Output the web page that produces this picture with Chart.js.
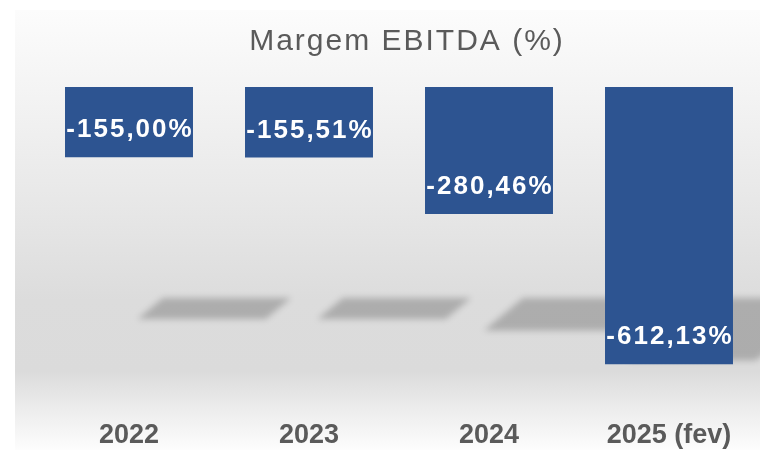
<!DOCTYPE html>
<html>
<head>
<meta charset="utf-8">
<title>Margem EBITDA (%)</title>
<script src="https://cdn.jsdelivr.net/npm/chart.js@4/dist/chart.umd.min.js"></script>
<style>
  html, body { margin: 0; padding: 0; background: #ffffff; }
  #wrap { width: 760px; height: 450px; }
</style>
</head>
<body>
<div id="wrap"><canvas id="ebitda" width="760" height="450"></canvas></div>
<script>
// Margem EBITDA por ano
const anos = ['2022', '2023', '2024', '2025 (fev)'];
const margem = [-155.00, -155.51, -280.46, -612.13];
const titulo = 'Margem EBITDA (%)';

const azul = '#2d5491';
const cinzaTexto = '#5a5a5a';
const fonte = '"Liberation Sans", Arial, sans-serif';

function formatPct(v) {
    return v.toFixed(2).replace('.', ',') + '%';
}

// fundo cinza em degradê e título
const fundoPlugin = {
    id: 'fundo',
    beforeDraw(chart) {
        const ctx = chart.ctx;
        ctx.save();
        ctx.fillStyle = '#ffffff';
        ctx.fillRect(0, 0, chart.width, chart.height);
        const g = ctx.createLinearGradient(0, 10, 0, chart.height);
        g.addColorStop(0, '#fcfcfc');
        g.addColorStop(0.18, '#f4f4f4');
        g.addColorStop(0.45, '#e7e7e7');
        g.addColorStop(0.66, '#dcdcdc');
        g.addColorStop(0.82, '#dbdbdb');
        g.addColorStop(0.91, '#ededed');
        g.addColorStop(1, '#fdfdfd');
        ctx.fillStyle = g;
        ctx.fillRect(15, 10, chart.width - 15, chart.height - 10);

        ctx.fillStyle = cinzaTexto;
        ctx.font = '30px ' + fonte;
        ctx.letterSpacing = '2px';
        ctx.textAlign = 'center';
        ctx.textBaseline = 'alphabetic';
        ctx.fillText(titulo, 407, 50);
        ctx.restore();
    }
};

// sombra projetada em perspectiva atrás das barras
const sombraPlugin = {
    id: 'sombra',
    beforeDatasetsDraw(chart) {
        const ctx = chart.ctx;
        const bars = chart.getDatasetMeta(0).data;
        ctx.save();
        ctx.filter = 'blur(3px)';
        ctx.fillStyle = 'rgba(0,0,0,0.21)';
        bars.forEach(bar => {
            const p = bar.getProps(['x', 'y', 'base', 'width'], true);
            const h = Math.abs(p.y - p.base);
            const left = p.x - p.width / 2;
            const right = p.x + p.width / 2;
            const top = p.base + 211;
            const t = 7 + 0.2 * h;
            const skew = 1.2 * t;
            ctx.beginPath();
            ctx.moveTo(left + 98, top);
            ctx.lineTo(right + 98, top);
            ctx.lineTo(right + 98 - skew, top + t);
            ctx.lineTo(left + 98 - skew, top + t);
            ctx.closePath();
            ctx.fill();
        });
        ctx.restore();
    }
};

// rótulos de valor dentro das barras
const rotuloPlugin = {
    id: 'rotulos',
    afterDatasetsDraw(chart) {
        const ctx = chart.ctx;
        const bars = chart.getDatasetMeta(0).data;
        ctx.save();
        ctx.fillStyle = '#ffffff';
        ctx.font = 'bold 26px ' + fonte;
        ctx.letterSpacing = '2px';
        ctx.textAlign = 'center';
        ctx.textBaseline = 'middle';
        bars.forEach((bar, i) => {
            const p = bar.getProps(['x', 'y'], true);
            ctx.fillText(formatPct(margem[i]), p.x + 1, p.y - 27);
        });
        ctx.restore();
    }
};

new Chart(document.getElementById('ebitda'), {
    type: 'bar',
    data: {
        labels: anos,
        datasets: [{
            data: margem,
            backgroundColor: azul,
            borderWidth: 0,
            categoryPercentage: 1,
            barPercentage: 0.711
        }]
    },
    options: {
        responsive: false,
        animation: false,
        layout: { padding: { top: 87, left: 39, right: 1, bottom: -17 } },
        plugins: {
            legend: { display: false },
            title: { display: false },
            tooltip: { enabled: false }
        },
        scales: {
            x: {
                grid: { display: false, drawTicks: false },
                border: { display: false },
                ticks: {
                    color: cinzaTexto,
                    padding: 18,
                    font: { family: fonte, size: 27, weight: 'bold', lineHeight: 1 }
                }
            },
            y: {
                display: false,
                min: -700,
                max: 0
            }
        }
    },
    plugins: [fundoPlugin, sombraPlugin, rotuloPlugin]
});
</script>
</body>
</html>
